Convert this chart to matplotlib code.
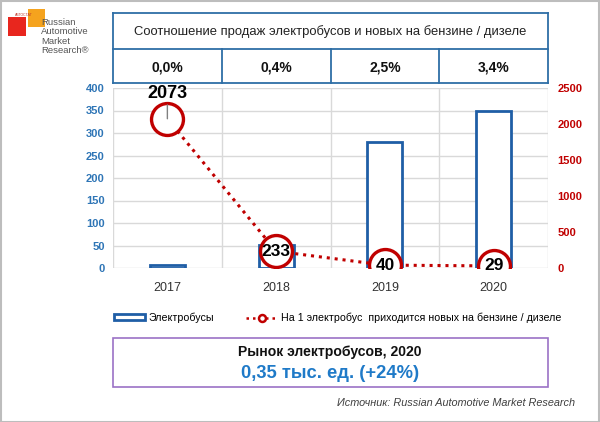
import numpy as np
import matplotlib
matplotlib.use("Agg")
import matplotlib.pyplot as plt
import matplotlib.transforms as mtransforms
from matplotlib.patches import Rectangle, Patch
from matplotlib.lines import Line2D

plt.rcParams["font.family"] = ["Liberation Sans", "DejaVu Sans"]

years = ["2017", "2018", "2019", "2020"]
ebus_sales = [6, 51, 280, 348]
ice_per_ebus = [2073, 233, 40, 29]
share_labels = ["0,0%", "0,4%", "2,5%", "3,4%"]
table_title = "Соотношение продаж электробусов и новых на бензине / дизеле"
bar_label = "Электробусы"
line_label = "На 1 электробус  приходится новых на бензине / дизеле"
box_title = "Рынок электробусов, 2020"
box_value = "0,35 тыс. ед. (+24%)"
source = "Источник: Russian Automotive Market Research"

W, H = 600, 422
blue = "#1f5ea6"
red = "#c00000"

fig = plt.figure(figsize=(6, 4.22), dpi=100)
ax = fig.add_axes([113 / W, 1 - 268 / H, 435 / W, 180 / H])
x = np.arange(len(years))

ax.bar(x, ebus_sales, width=0.32, facecolor="white", edgecolor=blue, linewidth=2, zorder=2)
ax.set_xlim(-0.5, 3.5)
ax.set_ylim(0, 400)
ax.set_yticks(np.arange(0, 401, 50))
ax.set_xticks(x)
ax.set_xticklabels(years, fontsize=9, color="#333333")
ax.set_xticks(np.arange(-0.5, 3.6, 1), minor=True)
ax.grid(axis="y", color="#d9d9d9", lw=1, zorder=0)
ax.grid(axis="x", which="minor", color="#d9d9d9", lw=1, zorder=0)
ax.tick_params(axis="x", length=0, pad=10, which="both")
ax.tick_params(axis="y", length=0, pad=6, labelsize=8, labelcolor="#2e75b6")
for lab in ax.get_yticklabels():
    lab.set_fontweight("bold")
for s in ax.spines.values():
    s.set_visible(False)

ax2 = ax.twinx()
ax2.plot(x, ice_per_ebus, color=red, lw=2.2, linestyle=(0, (1, 1.6)),
         marker="o", markersize=23, markerfacecolor="white",
         markeredgecolor=red, markeredgewidth=2.4, zorder=3)
ax2.set_ylim(0, 2500)
ax2.set_yticks(np.arange(0, 2501, 500))
ax2.tick_params(axis="y", length=0, pad=7, labelsize=8, labelcolor=red)
for lab in ax2.get_yticklabels():
    lab.set_fontweight("bold")
for s in ax2.spines.values():
    s.set_visible(False)

for i, v in enumerate(ice_per_ebus):
    if i == 0:
        ax2.annotate(str(v), xy=(x[i], v), xytext=(0, 12), textcoords="offset points",
                     ha="center", va="bottom", fontsize=13, fontweight="bold",
                     arrowprops=dict(arrowstyle="-", color="#808080", lw=1,
                                     shrinkA=0, shrinkB=0), zorder=5)
    else:
        ax2.text(x[i], v, str(v), ha="center", va="center", fontsize=12.5,
                 fontweight="bold", zorder=5)

# table on top
tr = mtransforms.blended_transform_factory(ax.transData, fig.transFigure)
y_top, y_mid, y_bot = 1 - 13 / H, 1 - 48.5 / H, 1 - 83 / H
tc = "#2e6ea6"
for yy in (y_top, y_mid, y_bot):
    fig.add_artist(Line2D([-0.5, 3.5], [yy, yy], transform=tr, color=tc, lw=1.3))
for xx in (-0.5, 3.5):
    fig.add_artist(Line2D([xx, xx], [y_top, y_bot], transform=tr, color=tc, lw=1.3))
for xx in (0.5, 1.5, 2.5):
    fig.add_artist(Line2D([xx, xx], [y_mid, y_bot], transform=tr, color=tc, lw=1.3))
fig.text(0.5 * (113 + 548) / W, 1 - 32 / H, table_title, ha="center", va="center",
         fontsize=9.4, color="#222222")
for i, s in enumerate(share_labels):
    ax.text(x[i], 1 - 67 / H, s, transform=tr, ha="center", va="center",
            fontsize=10, fontweight="bold", color="#111111")

# legend
handles = [Patch(facecolor="white", edgecolor=blue, linewidth=2),
           Line2D([], [], color=red, lw=1.8, linestyle=(0, (1, 1.6)), marker="o",
                  markersize=5, markerfacecolor="white", markeredgecolor=red,
                  markeredgewidth=1.8)]
fig.legend(handles, [bar_label, line_label], loc="center left",
           bbox_to_anchor=(104 / W, 1 - 318 / H), ncol=2, frameon=False,
           fontsize=7.7, handlelength=2.9, handleheight=0.5, handletextpad=0.35,
           columnspacing=3.0)

# market box
fig.add_artist(Rectangle((113 / W, 1 - 387 / H), 435 / W, 49 / H, transform=fig.transFigure,
                         facecolor="white", edgecolor="#9b72c6", lw=1.2))
fig.text(330 / W, 1 - 352 / H, box_title, ha="center", va="center", fontsize=10.1,
         fontweight="bold", color="#111111")
fig.text(330 / W, 1 - 373 / H, box_value, ha="center", va="center", fontsize=13.2,
         fontweight="bold", color="#1f7ac8")
fig.text(575 / W, 1 - 403 / H, source, ha="right", va="center", fontsize=7.8,
         style="italic", color="#404040")

# logo
fig.add_artist(Rectangle((8 / W, 1 - 36 / H), 18 / W, 19 / H, transform=fig.transFigure,
                         facecolor="#e8261e", edgecolor="none"))
fig.add_artist(Rectangle((28 / W, 1 - 27 / H), 17 / W, 18 / H, transform=fig.transFigure,
                         facecolor="#f5a31e", edgecolor="none"))
fig.text(15 / W, 1 - 14.5 / H, "АВТОСТАТ", fontsize=2.5, color="#c0392b", va="center")
fig.text(41 / W, 1 - 18 / H, "Russian\nAutomotive\nMarket\nResearch®", ha="left", va="top",
         fontsize=6.8, color="#555555", linespacing=1.05)

# outer frame
fig.add_artist(Rectangle((0.5 / W, 0.5 / H), 1 - 1.5 / W, 1 - 1.5 / H, transform=fig.transFigure,
                         facecolor="none", edgecolor="#bdbdbd", lw=1.5))

fig.savefig("out.png", dpi=100)
